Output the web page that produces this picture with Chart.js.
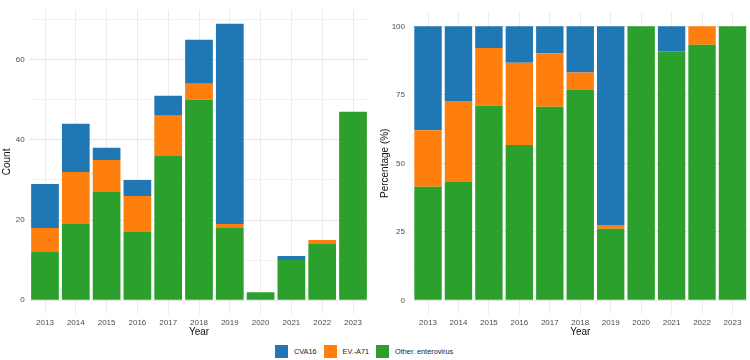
<!DOCTYPE html>
<html>
<head>
<meta charset="utf-8">
<script src="https://cdn.jsdelivr.net/npm/chart.js@4/dist/chart.umd.min.js"></script>
<style>
  html, body { margin: 0; padding: 0; background: #fff; }
  #wrap { position: relative; width: 750px; height: 360px; overflow: hidden; font-family: "Liberation Sans", Arial, sans-serif; }
  .cv { position: absolute; top: 0; width: 375px; height: 340px; }
  #c1 { left: 0; }
  #c2 { left: 375px; }
  #legend { position: absolute; top: 345px; left: 275px; height: 13px; display: flex; align-items: center; font-size: 7.3px; color: #222; white-space: nowrap; }
  .item { display: flex; align-items: center; margin-right: 7px; }
  .sw { width: 13px; height: 13px; margin-right: 6px; }
</style>
</head>
<body>
<div id="wrap">
  <div class="cv" id="c1"><canvas id="left" width="375" height="340"></canvas></div>
  <div class="cv" id="c2"><canvas id="right" width="375" height="340"></canvas></div>
  <div id="legend"></div>
</div>
<script>
const years = ['2013','2014','2015','2016','2017','2018','2019','2020','2021','2022','2023'];
const seriesNames = ['CVA16', 'EV.-A71', 'Other. enterovirus'];
const seriesColors = ['#1f77b4', '#ff7f0e', '#2ca02c'];

// Counts (left panel)
const countCVA16 = [11, 12, 3, 4, 5, 11, 50, 0, 1, 0, 0];
const countEVA71 = [6, 13, 8, 9, 10, 4, 1, 0, 0, 1, 0];
const countOther = [12, 19, 27, 17, 36, 50, 18, 2, 10, 14, 47];

// Percentages (right panel)
const pctCVA16 = [37.9, 27.3, 7.9, 13.3, 9.8, 16.9, 72.5, 0, 9.1, 0, 0];
const pctEVA71 = [20.7, 29.5, 21.1, 30.0, 19.6, 6.2, 1.4, 0, 0, 6.7, 0];
const pctOther = [41.4, 43.2, 71.0, 56.7, 70.6, 76.9, 26.1, 100, 90.9, 93.3, 100];

const countTicks = [0, 10, 20, 30, 40, 50, 60, 70];
const countLabels = [0, 20, 40, 60];
const pctTicks = [0, 12.5, 25, 37.5, 50, 62.5, 75, 87.5, 100];
const pctLabels = [0, 25, 50, 75, 100];

// legend
const lg = document.getElementById('legend');
seriesNames.forEach((n, i) => {
  const d = document.createElement('div');
  d.className = 'item';
  d.innerHTML = '<div class="sw" style="background:' + seriesColors[i] + '"></div><span>' + n + '</span>';
  lg.appendChild(d);
});

const FONT = "'Liberation Sans', Arial, sans-serif";

function makeChart(id, data3, ticksArr, labelsArr, ymin, ymax, title, yW, padR, yPad, titlePad) {
  const ds = [
    { label: seriesNames[2], data: data3[2], backgroundColor: seriesColors[2] },
    { label: seriesNames[1], data: data3[1], backgroundColor: seriesColors[1] },
    { label: seriesNames[0], data: data3[0], backgroundColor: seriesColors[0] }
  ].map(d => Object.assign(d, { barPercentage: 0.9, categoryPercentage: 1.0, borderWidth: 0 }));
  return new Chart(document.getElementById(id), {
    type: 'bar',
    data: { labels: years, datasets: ds },
    options: {
      responsive: false,
      animation: false,
      events: [],
      layout: { padding: { top: 2, right: padR, bottom: 0, left: 0 } },
      plugins: { legend: { display: false }, tooltip: { enabled: false } },
      scales: {
        x: {
          stacked: true,
          grid: { color: '#ebebeb', lineWidth: 1, offset: false, drawTicks: false },
          border: { display: false },
          ticks: { color: '#4d4d4d', font: { family: FONT, size: 8 }, padding: 4, maxRotation: 0, autoSkip: false },
          title: { display: true, text: 'Year', color: '#111', font: { family: FONT, size: 10 }, padding: { top: 0, bottom: 1.5 } },
          afterFit: s => { s.height = 26; }
        },
        y: {
          stacked: true,
          min: ymin,
          max: ymax,
          afterBuildTicks: s => { s.ticks = ticksArr.map(v => ({ value: v })); },
          grid: {
            drawTicks: false,
            color: c => (c.tick && labelsArr.includes(c.tick.value)) ? '#e6e6e6' : '#f2f2f2',
            lineWidth: 1
          },
          border: { display: false },
          ticks: {
            color: '#4d4d4d', font: { family: FONT, size: 8 }, padding: yPad,
            callback: v => labelsArr.includes(v) ? String(v) : ''
          },
          title: { display: true, text: title, color: '#111', font: { family: FONT, size: 10 }, padding: { top: titlePad, bottom: 0 } },
          afterFit: s => { s.width = yW; }
        }
      }
    }
  });
}

makeChart('left', [countCVA16, countEVA71, countOther], countTicks, countLabels, -3.45, 72.45, 'Count', 29.6, 6.6, 5, 1);
makeChart('right', [pctCVA16, pctEVA71, pctOther], pctTicks, pctLabels, -5, 105, 'Percentage (%)', 37.8, 2.3, 7.8, 4);
</script>
</body>
</html>
